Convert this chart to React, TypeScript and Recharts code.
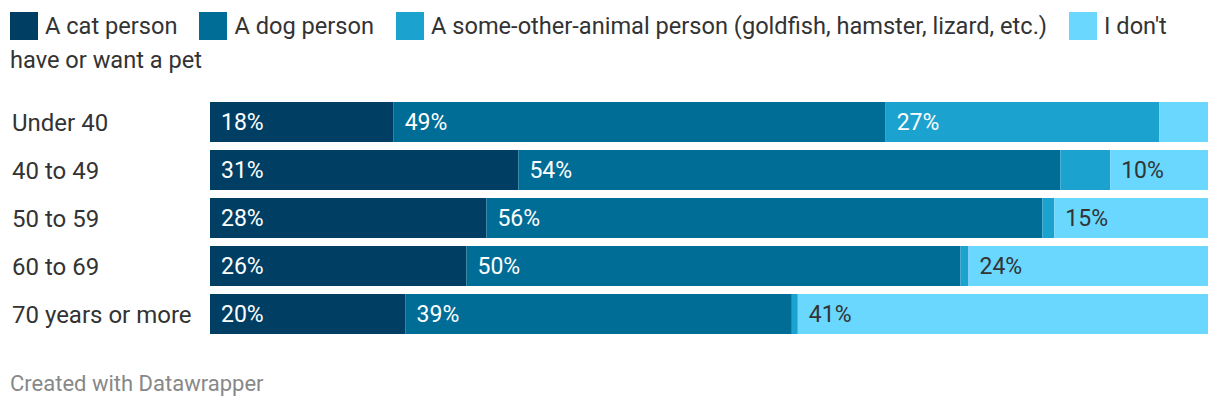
import { Bar, BarChart, LabelList, XAxis, YAxis } from 'recharts';

const ageGroups = ['Under 40', '40 to 49', '50 to 59', '60 to 69', '70 years or more'];
const catPerson = [18.4, 30.9, 27.7, 25.7, 19.6];
const dogPerson = [49.3, 54.3, 55.7, 49.5, 38.7];
const otherAnimal = [27.4, 5.0, 1.2, 0.8, 0.6];
const noPet = [4.9, 9.8, 15.4, 24.0, 41.1];

const seriesNames = [
  'A cat person',
  'A dog person',
  'A some-other-animal person (goldfish, hamster, lizard, etc.)',
  "I don't have or want a pet",
];
const seriesKeys = ['cat', 'dog', 'other', 'none'];
const seriesColors = ['#003f63', '#006d97', '#1ba2cf', '#69d7fe'];
const labelColors = ['#ffffff', '#ffffff', '#ffffff', '#333333'];

const rows = ageGroups.map((group, i) => ({
  group,
  cat: catPerson[i],
  dog: dogPerson[i],
  other: otherAnimal[i],
  none: noPet[i],
}));

const FONT = 'Roboto, "Noto Sans", sans-serif';

function RowTick({ y, payload }: any) {
  return (
    <text x={12} y={y} dy="0.36em" textAnchor="start" fontSize={24} fill="#333" fontFamily={FONT}>
      {payload.value}
    </text>
  );
}

function makeLabel(color: string) {
  return function SegmentLabel({ x, y, height, value }: any) {
    if (value < 6) return null;
    return (
      <text
        x={x + 11}
        y={y + height / 2}
        dy="0.36em"
        textAnchor="start"
        fontSize={23}
        fill={color}
        fontFamily={FONT}
      >
        {Math.round(value)}%
      </text>
    );
  };
}

// legend wraps like running text; each word is its own span so no box spans two lines
function Legend() {
  const parts: any[] = [];
  seriesNames.forEach((name, i) => {
    parts.push(
      <span
        key={'sw' + i}
        style={{
          display: 'inline-block',
          width: 28,
          height: 28,
          background: seriesColors[i],
          verticalAlign: '-6px',
          marginRight: 7,
          marginLeft: i === 0 ? 0 : 22,
        }}
      />
    );
    name.split(' ').forEach((word, j) => {
      if (j > 0) parts.push(' ');
      parts.push(<span key={'w' + i + '-' + j}>{word}</span>);
    });
  });
  return (
    <div style={{ fontSize: 23.6, lineHeight: '34px', color: '#333', width: 1192 }}>{parts}</div>
  );
}

export default function App() {
  return (
    <div
      style={{
        position: 'absolute',
        left: 0,
        top: 0,
        width: 1220,
        height: 412,
        background: '#fff',
        fontFamily: FONT,
        overflow: 'hidden',
      }}
    >
      <div style={{ position: 'absolute', left: 10, top: 9 }}>
        <Legend />
      </div>
      <div style={{ position: 'absolute', left: 0, top: 0 }}>
        <BarChart
          width={1220}
          height={340}
          data={rows}
          layout="vertical"
          margin={{ top: 98, right: 12, bottom: 2, left: 10 }}
          barSize={40}
        >
          <XAxis type="number" domain={[0, 100]} hide />
          <YAxis
            type="category"
            dataKey="group"
            width={200}
            axisLine={false}
            tickLine={false}
            tick={<RowTick />}
          />
          {seriesKeys.map((key, i) => (
            <Bar
              key={key}
              dataKey={key}
              stackId="a"
              fill={seriesColors[i]}
              isAnimationActive={false}
            >
              <LabelList dataKey={key} content={makeLabel(labelColors[i])} />
            </Bar>
          ))}
        </BarChart>
      </div>
      <div
        style={{
          position: 'absolute',
          left: 10,
          top: 371,
          fontSize: 22,
          color: '#888',
        }}
      >
        Created with Datawrapper
      </div>
    </div>
  );
}
